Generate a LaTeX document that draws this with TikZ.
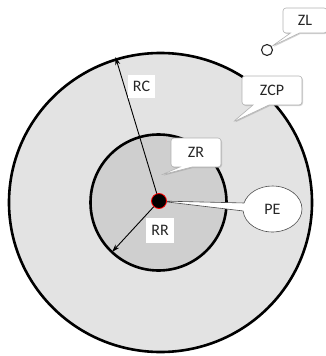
\documentclass[tikz,border=0pt]{standalone}
\usepackage{fontspec}
\setmainfont{Carlito}
\usetikzlibrary{shapes.callouts,shapes.geometric,arrows.meta,shadows}
\begin{document}
\begin{tikzpicture}[x=1pt,y=-1pt,
  txt/.style={font=\fontsize{16}{18}\selectfont, text=black!85},
  ring/.style={draw=black, line width=2.6pt},
  arr/.style={draw=black, line width=0.9pt, -{Stealth[length=8pt,width=5pt]}},
  lbl/.style={txt, fill=white, inner sep=0pt},
  shad/.style={drop shadow={shadow xshift=1pt, shadow yshift=-1pt, fill=gray, opacity=0.35}},
  callbox/.style={txt, rectangle callout, rounded corners=3pt, draw=gray!60, fill=white,
    line width=0.6pt, inner sep=0pt, shad},
  callell/.style={txt, ellipse callout, draw=black!70, fill=white, line width=0.6pt, inner sep=0pt}
]
\useasboundingbox (0,0) rectangle (326,356);
% zones
\node[ring, ellipse, fill=gray!22, minimum width=303pt, minimum height=299pt, inner sep=0pt] (zcpzone) at (160.5,202.5) {};
\node[ring, circle, fill=gray!38, minimum size=136pt, inner sep=0pt] (zrzone) at (158.5,202.5) {};
% centre and radius ends
\coordinate (o) at (159,201);
\coordinate (rcend) at (115.5,57);
\coordinate (rrend) at (112,252);
\draw[arr] (o) -- (rcend);
\draw[arr] (o) -- (rrend);
\node[lbl, minimum width=27pt, minimum height=23pt] (rc) at (141.5,86.5) {RC};
\node[lbl, minimum width=28pt, minimum height=25pt] (rr) at (160,230.5) {RR};
% callouts
\node[callbox, minimum width=60pt, minimum height=29pt, callout pointer width=16pt,
  callout absolute pointer={(233,122)}] (zcp) at (272,90.5) {ZCP};
\node[callbox, minimum width=50pt, minimum height=29pt, callout pointer width=12pt,
  callout absolute pointer={(161,175)}] (zr) at (196,152.5) {ZR};
\node[callell, minimum width=59pt, minimum height=46pt, callout pointer arc=20,
  callout absolute pointer={(o)}] (pe) at (272.5,209) {PE};
% ZL point
\node[circle, draw=black!85, fill=white, line width=1.1pt, minimum size=11pt, inner sep=0pt] (zlpt) at (267,50) {};
\node[callbox, minimum width=44pt, minimum height=25pt, callout pointer width=9pt,
  callout absolute pointer={(271.5,46.5)}] (zl) at (305,20.5) {ZL};
% event point
\node[circle, fill=black, draw=red, line width=0.8pt, minimum size=15pt, inner sep=0pt] (dot) at (o) {};
\end{tikzpicture}
\end{document}
